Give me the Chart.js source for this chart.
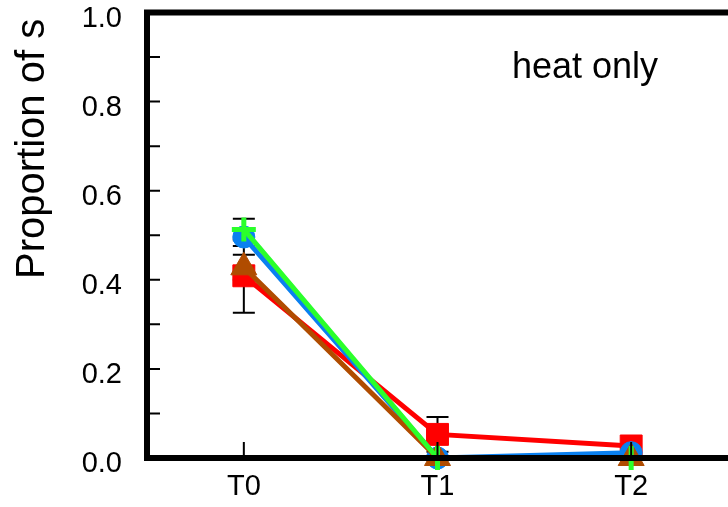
<!DOCTYPE html>
<html>
<head>
<meta charset="utf-8">
<script src="https://cdn.jsdelivr.net/npm/chart.js@4.4.0/dist/chart.umd.min.js"></script>
<style>
    html, body { margin: 0; padding: 0; background: #fff; overflow: hidden; }
</style>
</head>
<body>
<canvas id="survivalChart" width="728" height="507"></canvas>
<script>
// Time points on the x axis
const timePoints = ['T0', 'T1', 'T2'];

// Mean proportion and error (half-length of bar) per line
const greenMeans = [0.513, 0, 0];
const greenErrors = [0.024, 0, 0];
const brownMeans = [0.428, 0, 0];
const brownErrors = [0.028, 0, 0];
const blueMeans = [0.496, 0, 0.012];
const blueErrors = [0.02, 0, 0];
const redMeans = [0.409, 0.053, 0.027];
const redErrors = [0.083, 0.039, 0];

// Minor tick values on the y axis (major ones come from the scale)
const yMinorTicks = [0.1, 0.3, 0.5, 0.7, 0.9];

const axisTitle = 'Proportion of s';
const panelNote = 'heat only';

const FONT = "'Liberation Sans', Arial, sans-serif";

// Draws the black error bars under the lines and markers
const errorBarPlugin = {
    id: 'errorBars',
    beforeDatasetsDraw(chart) {
        const { ctx, scales: { x, y } } = chart;
        ctx.save();
        ctx.strokeStyle = '#000';
        ctx.lineWidth = 2;
        chart.data.datasets.forEach((ds) => {
            ds.errors.forEach((e, i) => {
                if (!e) return;
                const px = x.getPixelForValue(i);
                const top = y.getPixelForValue(ds.data[i] + e);
                const bottom = y.getPixelForValue(ds.data[i] - e);
                ctx.beginPath();
                ctx.moveTo(px, top);
                ctx.lineTo(px, bottom);
                ctx.moveTo(px - 11, top);
                ctx.lineTo(px + 11, top);
                ctx.moveTo(px - 11, bottom);
                ctx.lineTo(px + 11, bottom);
                ctx.stroke();
            });
        });
        ctx.restore();
    }
};

// Frame top line, inward tick marks, rotated y title and the panel note
const framePlugin = {
    id: 'frame',
    afterDraw(chart) {
        const { ctx, chartArea, scales: { x, y } } = chart;
        ctx.save();
        ctx.strokeStyle = '#000';

        ctx.lineWidth = 6;
        ctx.beginPath();
        ctx.moveTo(chartArea.left - 3, chartArea.top);
        ctx.lineTo(chartArea.right, chartArea.top);
        ctx.stroke();

        ctx.lineWidth = 2;
        ctx.beginPath();
        y.ticks.forEach((t) => {
            const py = y.getPixelForValue(t.value);
            ctx.moveTo(chartArea.left, py);
            ctx.lineTo(chartArea.left + 13, py);
        });
        yMinorTicks.forEach((v) => {
            const py = y.getPixelForValue(v);
            ctx.moveTo(chartArea.left, py);
            ctx.lineTo(chartArea.left + 13, py);
        });
        timePoints.forEach((label, i) => {
            const px = x.getPixelForValue(i);
            ctx.moveTo(px, chartArea.bottom);
            ctx.lineTo(px, chartArea.bottom - 16);
        });
        ctx.stroke();

        ctx.fillStyle = '#000';
        ctx.font = '40px ' + FONT;
        ctx.translate(44, 279);
        ctx.rotate(-Math.PI / 2);
        ctx.textAlign = 'left';
        ctx.textBaseline = 'alphabetic';
        ctx.fillText(axisTitle, 0, 0);
        ctx.setTransform(1, 0, 0, 1, 0, 0);

        ctx.font = '36px ' + FONT;
        ctx.fillText(panelNote, 512, 78);
        ctx.restore();
    }
};

function makeLine(data, errors, color, style, radius, pointWidth) {
    return {
        data: data,
        errors: errors,
        borderColor: color,
        backgroundColor: color,
        borderWidth: 5,
        pointStyle: style,
        pointRadius: radius,
        pointBorderWidth: pointWidth,
        pointBorderColor: color,
        pointBackgroundColor: color,
        tension: 0,
        clip: false
    };
}

// keep the plot box fixed, whatever size the tick labels have
function noScalePadding(scale) {
    scale.paddingTop = 0;
    scale.paddingBottom = 0;
    scale.paddingLeft = 0;
    scale.paddingRight = 0;
}

function initChart() {
    const ctx = document.getElementById('survivalChart').getContext('2d');
    new Chart(ctx, {
        type: 'line',
        data: {
            labels: timePoints,
            // first dataset is painted last, so it sits on top
            datasets: [
                makeLine(greenMeans, greenErrors, '#2bff2b', 'cross', 12, 5),
                makeLine(brownMeans, brownErrors, '#b04c00', 'triangle', 15, 1),
                makeLine(blueMeans, blueErrors, '#0a80f0', 'circle', 11, 1),
                makeLine(redMeans, redErrors, '#ff0000', 'rect', 15.5, 1)
            ]
        },
        options: {
            responsive: false,
            devicePixelRatio: 1,
            animation: false,
            layout: { autoPadding: false, padding: { top: 12.5, left: 0, right: 0, bottom: 0 } },
            plugins: { legend: { display: false }, tooltip: { enabled: false }, title: { display: false } },
            scales: {
                x: {
                    type: 'category',
                    offset: true,
                    grid: { display: false, drawTicks: false },
                    border: { display: true, width: 6, color: '#000', z: 1 },
                    ticks: {
                        color: '#000',
                        font: { family: FONT, size: 29 },
                        padding: 12,
                        maxRotation: 0
                    },
                    afterFit(scale) {
                        scale.height = 49;
                        noScalePadding(scale);
                    }
                },
                y: {
                    min: 0,
                    max: 1,
                    grid: { display: false, drawTicks: false },
                    border: { display: true, width: 6, color: '#000', z: 1 },
                    ticks: {
                        stepSize: 0.2,
                        color: '#000',
                        font: { family: FONT, size: 29 },
                        padding: 25,
                        labelOffset: 6,
                        callback: (v) => v.toFixed(1)
                    },
                    afterFit(scale) {
                        scale.width = 147;
                        noScalePadding(scale);
                    }
                }
            }
        },
        plugins: [errorBarPlugin, framePlugin]
    });
}

window.onload = initChart;
</script>
</body>
</html>
